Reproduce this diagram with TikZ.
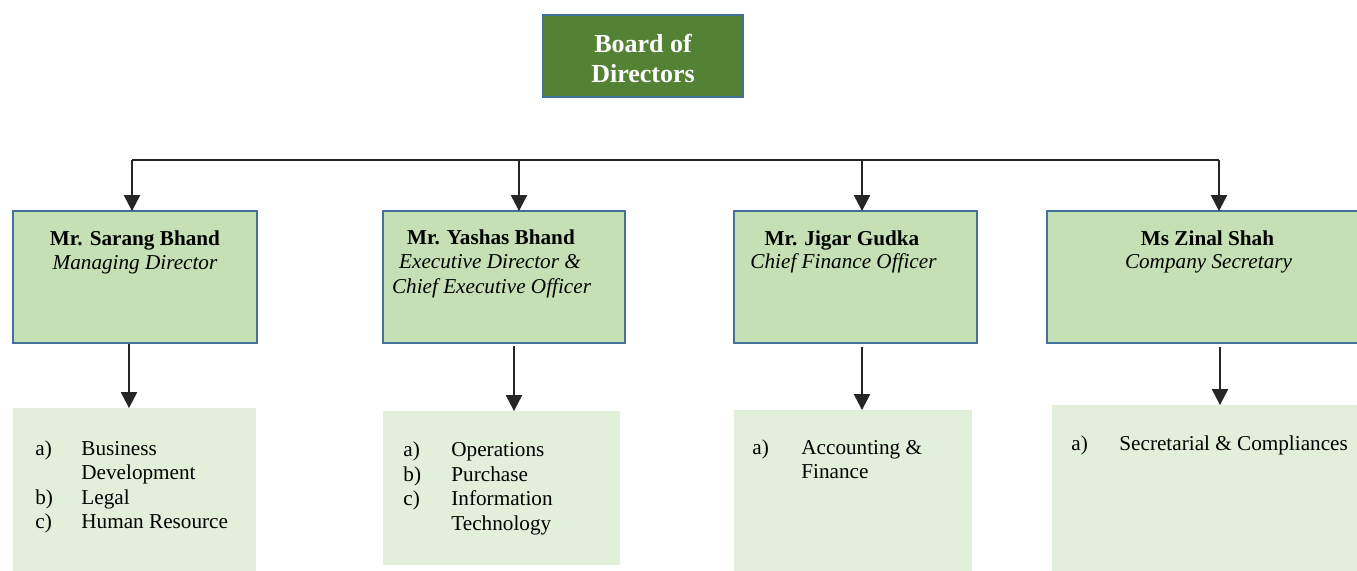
\documentclass[tikz,border=0pt]{standalone}
\usepackage{fontspec}
\setmainfont{Liberation Serif}
\usetikzlibrary{arrows.meta}
\definecolor{boardfill}{HTML}{548235}
\definecolor{boxline}{HTML}{41719C}
\definecolor{headfill}{HTML}{C5E0B4}
\definecolor{listfill}{HTML}{E2EFDA}
\tikzset{
  boardbox/.style={draw=boxline, line width=1pt, fill=boardfill, inner sep=0pt, outer sep=0pt, anchor=north west},
  headbox/.style={draw=boxline, line width=0.7pt, fill=headfill, inner sep=0pt, outer sep=0pt, anchor=north west, minimum height=66pt},
  listbox/.style={fill=listfill, inner sep=0pt, outer sep=0pt, anchor=north west},
  busline/.style={line width=0.6pt, black!85},
  arrline/.style={line width=0.6pt, black!85, -{Triangle[width=8.2pt,length=8pt]}},
  nametext/.style={anchor=base, inner sep=0pt, font=\fontsize{10.6}{12.3}\selectfont\bfseries},
  roletext/.style={anchor=base, inner sep=0pt, font=\fontsize{10.6}{12.3}\selectfont\itshape},
  itemtext/.style={anchor=base west, inner sep=0pt, font=\fontsize{10.6}{12.3}\selectfont},
  boardtext/.style={anchor=base, inner sep=0pt, text=white, font=\fontsize{13}{15}\selectfont\bfseries}
}
\begin{document}
\begin{tikzpicture}[x=0.5pt,y=-0.5pt]
\clip (0,0) rectangle (1357,570);
\useasboundingbox (0,0) rectangle (1357,570);

% Board
\node[boardbox, minimum width=100pt, minimum height=41pt] (bod) at (543,15) {};
\node[boardtext] (bodt1) at (643,52) {Board of};
\node[boardtext] (bodt2) at (643,82) {Directors};

% head boxes
\node[headbox, minimum width=122pt] (md) at (13,211) {};
\node[headbox, minimum width=121pt] (ceo) at (383,211) {};
\node[headbox, minimum width=121.5pt] (cfo) at (734,211) {};
\node[headbox, minimum width=157.5pt] (cs) at (1047,211) {};

% list boxes
\node[listbox, minimum width=121.5pt, minimum height=83pt] (l1) at (13,408) {};
\node[listbox, minimum width=118.5pt, minimum height=77pt] (l2) at (383,411) {};
\node[listbox, minimum width=119pt, minimum height=83pt] (l3) at (734,410) {};
\node[listbox, minimum width=155pt, minimum height=86pt] (l4) at (1052,405) {};

% bus
\coordinate (b1) at (132,160);
\coordinate (b2) at (519,160);
\coordinate (b3) at (862,160);
\coordinate (b4) at (1219,160);
\draw[busline] (b1) -- (b4);
\draw[arrline] (b1) -- (b1 |- md.north);
\draw[arrline] (b2) -- (b2 |- ceo.north);
\draw[arrline] (b3) -- (b3 |- cfo.north);
\draw[arrline] (b4) -- (b4 |- cs.north);

% down arrows
\coordinate (d1) at (129,344);
\coordinate (d2) at (514,346);
\coordinate (d3) at (862,347);
\coordinate (d4) at (1220,347);
\draw[arrline] (d1) -- (d1 |- l1.north);
\draw[arrline] (d2) -- (d2 |- l2.north);
\draw[arrline] (d3) -- (d3 |- l3.north);
\draw[arrline] (d4) -- (d4 |- l4.north);

% head texts
\node[nametext] (mdn) at (135,245) {Mr. Sarang Bhand};
\node[roletext] (mdr) at (135,269) {Managing Director};
\node[nametext] (ceon) at (491,244) {Mr. Yashas Bhand};
\node[roletext] (ceor1) at (490,268) {Executive Director \&};
\node[roletext] (ceor2) at (491.5,293) {Chief Executive Officer};
\node[nametext] (cfon) at (842,245) {Mr. Jigar Gudka};
\node[roletext] (cfor) at (843.5,268) {Chief Finance Officer};
\node[nametext] (csn) at (1207.5,245) {Ms Zinal Shah};
\node[roletext] (csr) at (1208.5,268) {Company Secretary};

% list 1
\node[itemtext] (l1a) at (35,455) {a)};
\node[itemtext] (l1at) at (81,455) {Business};
\node[itemtext] (l1at2) at (81,479.5) {Development};
\node[itemtext] (l1b) at (35,504) {b)};
\node[itemtext] (l1bt) at (81,504) {Legal};
\node[itemtext] (l1c) at (35,528.5) {c)};
\node[itemtext] (l1ct) at (81,528.5) {Human Resource};

% list 2
\node[itemtext] (l2a) at (403,456) {a)};
\node[itemtext] (l2at) at (451,456) {Operations};
\node[itemtext] (l2b) at (403,481) {b)};
\node[itemtext] (l2bt) at (451,481) {Purchase};
\node[itemtext] (l2c) at (403,505) {c)};
\node[itemtext] (l2ct) at (451,505) {Information};
\node[itemtext] (l2ct2) at (451,530) {Technology};

% list 3
\node[itemtext] (l3a) at (752,454) {a)};
\node[itemtext] (l3at) at (801,454) {Accounting \&};
\node[itemtext] (l3at2) at (801,478) {Finance};

% list 4
\node[itemtext] (l4a) at (1071,450) {a)};
\node[itemtext] (l4at) at (1119,450) {Secretarial \& Compliances};
\end{tikzpicture}
\end{document}
